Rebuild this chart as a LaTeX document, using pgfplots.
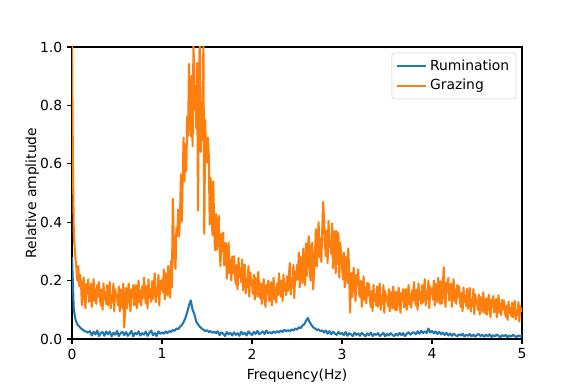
\documentclass[border=0pt]{standalone}
\usepackage{pgfplots}
\usepackage{pgfplotstable}
\pgfplotsset{compat=1.18}
\usepackage{fontspec}
\setmainfont{DejaVu Sans}
\definecolor{mplblue}{HTML}{1F77B4}
\definecolor{mplorange}{HTML}{FF7F0E}

% grazing spectrum, one value every 0.01 Hz from 0 to 5 Hz (one line = 0.1 Hz)
\pgfplotstableread[row sep=\\]{
y\\
1.05\\ 0.60\\ 0.36\\ 0.31\\ 0.27\\ 0.24\\ 0.20\\ 0.25\\ 0.18\\ 0.22\\
0.193\\ 0.116\\ 0.171\\ 0.21\\ 0.138\\ 0.105\\ 0.188\\ 0.155\\ 0.204\\ 0.127\\
0.14\\ 0.19\\ 0.11\\ 0.16\\ 0.205\\ 0.13\\ 0.17\\ 0.12\\ 0.185\\ 0.145\\
0.195\\ 0.14\\ 0.115\\ 0.17\\ 0.10\\ 0.19\\ 0.135\\ 0.16\\ 0.12\\ 0.185\\
0.115\\ 0.16\\ 0.195\\ 0.105\\ 0.15\\ 0.125\\ 0.19\\ 0.095\\ 0.17\\ 0.145\\
0.15\\ 0.115\\ 0.18\\ 0.095\\ 0.17\\ 0.145\\ 0.105\\ 0.19\\ 0.04\\ 0.10\\
0.175\\ 0.105\\ 0.155\\ 0.19\\ 0.125\\ 0.095\\ 0.17\\ 0.14\\ 0.185\\ 0.115\\
0.135\\ 0.185\\ 0.105\\ 0.155\\ 0.20\\ 0.125\\ 0.165\\ 0.115\\ 0.18\\ 0.14\\
0.21\\ 0.149\\ 0.122\\ 0.182\\ 0.105\\ 0.204\\ 0.144\\ 0.171\\ 0.127\\ 0.198\\
0.137\\ 0.187\\ 0.225\\ 0.126\\ 0.176\\ 0.148\\ 0.22\\ 0.115\\ 0.198\\ 0.17\\
0.202\\ 0.16\\ 0.238\\ 0.136\\ 0.226\\ 0.196\\ 0.148\\ 0.25\\ 0.172\\ 0.142\\
0.268\\ 0.176\\ 0.48\\ 0.352\\ 0.268\\ 0.24\\ 0.38\\ 0.352\\ 0.444\\ 0.352\\
0.414\\ 0.564\\ 0.402\\ 0.552\\ 0.69\\ 0.54\\ 0.666\\ 0.576\\ 0.762\\ 0.696\\
0.942\\ 0.764\\ 0.694\\ 0.902\\ 0.66\\ 1.03\\ 0.786\\ 0.866\\ 0.722\\ 0.946\\
0.44\\ 0.87\\ 1.04\\ 0.64\\ 0.81\\ 0.68\\ 1.02\\ 0.36\\ 0.75\\ 0.62\\
0.604\\ 0.69\\ 0.626\\ 0.392\\ 0.552\\ 0.472\\ 0.356\\ 0.54\\ 0.374\\ 0.304\\
0.428\\ 0.306\\ 0.376\\ 0.422\\ 0.308\\ 0.25\\ 0.36\\ 0.302\\ 0.364\\ 0.252\\
0.269\\ 0.329\\ 0.207\\ 0.277\\ 0.33\\ 0.225\\ 0.271\\ 0.201\\ 0.282\\ 0.226\\
0.284\\ 0.218\\ 0.188\\ 0.254\\ 0.17\\ 0.278\\ 0.212\\ 0.242\\ 0.194\\ 0.272\\
0.167\\ 0.217\\ 0.255\\ 0.156\\ 0.206\\ 0.178\\ 0.25\\ 0.145\\ 0.228\\ 0.20\\
0.19\\ 0.155\\ 0.22\\ 0.135\\ 0.21\\ 0.185\\ 0.145\\ 0.23\\ 0.165\\ 0.14\\
0.19\\ 0.12\\ 0.17\\ 0.205\\ 0.14\\ 0.11\\ 0.185\\ 0.155\\ 0.20\\ 0.13\\
0.145\\ 0.195\\ 0.115\\ 0.165\\ 0.21\\ 0.135\\ 0.175\\ 0.125\\ 0.19\\ 0.15\\
0.225\\ 0.17\\ 0.145\\ 0.20\\ 0.13\\ 0.22\\ 0.165\\ 0.19\\ 0.15\\ 0.215\\
0.164\\ 0.218\\ 0.26\\ 0.152\\ 0.206\\ 0.176\\ 0.254\\ 0.14\\ 0.23\\ 0.20\\
0.254\\ 0.205\\ 0.296\\ 0.177\\ 0.282\\ 0.247\\ 0.191\\ 0.31\\ 0.219\\ 0.184\\
0.328\\ 0.216\\ 0.296\\ 0.352\\ 0.248\\ 0.20\\ 0.32\\ 0.33\\ 0.17\\ 0.232\\
0.296\\ 0.376\\ 0.248\\ 0.328\\ 0.40\\ 0.28\\ 0.344\\ 0.264\\ 0.368\\ 0.47\\
0.412\\ 0.324\\ 0.284\\ 0.372\\ 0.26\\ 0.404\\ 0.316\\ 0.336\\ 0.292\\ 0.396\\
0.242\\ 0.314\\ 0.37\\ 0.226\\ 0.37\\ 0.258\\ 0.362\\ 0.21\\ 0.33\\ 0.29\\
0.254\\ 0.205\\ 0.296\\ 0.177\\ 0.282\\ 0.247\\ 0.191\\ 0.31\\ 0.219\\ 0.09\\
0.226\\ 0.142\\ 0.202\\ 0.244\\ 0.166\\ 0.13\\ 0.22\\ 0.184\\ 0.238\\ 0.154\\
0.144\\ 0.199\\ 0.11\\ 0.166\\ 0.215\\ 0.133\\ 0.177\\ 0.122\\ 0.193\\ 0.149\\
0.19\\ 0.135\\ 0.11\\ 0.165\\ 0.095\\ 0.185\\ 0.13\\ 0.155\\ 0.115\\ 0.18\\
0.11\\ 0.155\\ 0.19\\ 0.10\\ 0.145\\ 0.12\\ 0.185\\ 0.09\\ 0.165\\ 0.14\\
0.144\\ 0.112\\ 0.171\\ 0.095\\ 0.162\\ 0.14\\ 0.104\\ 0.18\\ 0.122\\ 0.099\\
0.162\\ 0.099\\ 0.144\\ 0.176\\ 0.117\\ 0.09\\ 0.158\\ 0.131\\ 0.171\\ 0.108\\
0.126\\ 0.172\\ 0.10\\ 0.145\\ 0.185\\ 0.118\\ 0.154\\ 0.108\\ 0.167\\ 0.131\\
0.195\\ 0.14\\ 0.115\\ 0.17\\ 0.10\\ 0.19\\ 0.135\\ 0.16\\ 0.12\\ 0.185\\
0.125\\ 0.17\\ 0.205\\ 0.115\\ 0.16\\ 0.135\\ 0.20\\ 0.105\\ 0.18\\ 0.155\\
0.17\\ 0.135\\ 0.20\\ 0.115\\ 0.19\\ 0.165\\ 0.125\\ 0.21\\ 0.145\\ 0.12\\
0.198\\ 0.121\\ 0.176\\ 0.245\\ 0.143\\ 0.11\\ 0.193\\ 0.16\\ 0.209\\ 0.132\\
0.14\\ 0.19\\ 0.11\\ 0.16\\ 0.205\\ 0.13\\ 0.17\\ 0.12\\ 0.185\\ 0.145\\
0.181\\ 0.131\\ 0.109\\ 0.158\\ 0.095\\ 0.176\\ 0.127\\ 0.149\\ 0.113\\ 0.172\\
0.103\\ 0.144\\ 0.175\\ 0.094\\ 0.135\\ 0.112\\ 0.171\\ 0.085\\ 0.153\\ 0.13\\
0.128\\ 0.10\\ 0.152\\ 0.084\\ 0.144\\ 0.124\\ 0.092\\ 0.16\\ 0.108\\ 0.088\\
0.139\\ 0.083\\ 0.123\\ 0.151\\ 0.099\\ 0.075\\ 0.135\\ 0.111\\ 0.147\\ 0.091\\
0.098\\ 0.138\\ 0.074\\ 0.114\\ 0.15\\ 0.09\\ 0.122\\ 0.082\\ 0.134\\ 0.102\\
0.132\\ 0.093\\ 0.076\\ 0.114\\ 0.065\\ 0.128\\ 0.09\\ 0.107\\ 0.079\\ 0.125\\
0.074\\ 0.106\\ 0.13\\ 0.067\\ 0.099\\ 0.081\\ 0.127\\ 0.06\\ 0.113\\ 0.095\\
0.10\\
}\grazing

% rumination spectrum, one value every 0.02 Hz from 0 to 5 Hz (one line = 0.2 Hz)
\pgfplotstableread[row sep=\\]{
y\\
0.28\\ 0.10\\ 0.065\\ 0.05\\ 0.043\\ 0.036\\ 0.032\\ 0.027\\ 0.025\\ 0.022\\
0.027\\ 0.012\\ 0.025\\ 0.016\\ 0.029\\ 0.010\\ 0.020\\ 0.024\\ 0.011\\ 0.026\\
0.016\\ 0.026\\ 0.009\\ 0.021\\ 0.015\\ 0.028\\ 0.010\\ 0.020\\ 0.025\\ 0.013\\
0.024\\ 0.011\\ 0.018\\ 0.028\\ 0.009\\ 0.021\\ 0.016\\ 0.026\\ 0.012\\ 0.020\\
0.015\\ 0.025\\ 0.011\\ 0.021\\ 0.029\\ 0.013\\ 0.020\\ 0.010\\ 0.026\\ 0.018\\
0.022\\ 0.018\\ 0.026\\ 0.02\\ 0.027\\ 0.024\\ 0.031\\ 0.028\\ 0.036\\ 0.034\\
0.042\\ 0.048\\ 0.058\\ 0.072\\ 0.092\\ 0.115\\ 0.132\\ 0.10\\ 0.085\\ 0.06\\
0.05\\ 0.042\\ 0.036\\ 0.032\\ 0.027\\ 0.03\\ 0.024\\ 0.027\\ 0.021\\ 0.025\\
0.020\\ 0.026\\ 0.013\\ 0.023\\ 0.018\\ 0.010\\ 0.024\\ 0.016\\ 0.021\\ 0.012\\
0.023\\ 0.014\\ 0.020\\ 0.011\\ 0.025\\ 0.016\\ 0.021\\ 0.012\\ 0.026\\ 0.018\\
0.014\\ 0.024\\ 0.018\\ 0.028\\ 0.016\\ 0.021\\ 0.026\\ 0.017\\ 0.029\\ 0.020\\
0.023\\ 0.019\\ 0.026\\ 0.021\\ 0.027\\ 0.022\\ 0.029\\ 0.024\\ 0.031\\ 0.027\\
0.03\\ 0.026\\ 0.033\\ 0.029\\ 0.036\\ 0.032\\ 0.04\\ 0.037\\ 0.046\\ 0.05\\
0.062\\ 0.072\\ 0.058\\ 0.048\\ 0.04\\ 0.036\\ 0.031\\ 0.033\\ 0.027\\ 0.029\\
0.022\\ 0.029\\ 0.018\\ 0.027\\ 0.016\\ 0.025\\ 0.019\\ 0.014\\ 0.024\\ 0.017\\
0.021\\ 0.013\\ 0.024\\ 0.011\\ 0.020\\ 0.016\\ 0.010\\ 0.022\\ 0.014\\ 0.019\\
0.011\\ 0.021\\ 0.015\\ 0.009\\ 0.019\\ 0.013\\ 0.022\\ 0.010\\ 0.018\\ 0.014\\
0.020\\ 0.010\\ 0.015\\ 0.021\\ 0.009\\ 0.018\\ 0.012\\ 0.020\\ 0.014\\ 0.010\\
0.018\\ 0.012\\ 0.021\\ 0.013\\ 0.020\\ 0.010\\ 0.018\\ 0.023\\ 0.015\\ 0.021\\
0.023\\ 0.016\\ 0.026\\ 0.018\\ 0.028\\ 0.020\\ 0.026\\ 0.021\\ 0.036\\ 0.022\\
0.028\\ 0.019\\ 0.026\\ 0.017\\ 0.025\\ 0.016\\ 0.022\\ 0.014\\ 0.021\\ 0.012\\
0.019\\ 0.011\\ 0.018\\ 0.013\\ 0.009\\ 0.016\\ 0.012\\ 0.018\\ 0.009\\ 0.015\\
0.011\\ 0.017\\ 0.009\\ 0.015\\ 0.008\\ 0.014\\ 0.017\\ 0.010\\ 0.014\\ 0.008\\
0.015\\ 0.010\\ 0.016\\ 0.007\\ 0.013\\ 0.009\\ 0.015\\ 0.011\\ 0.006\\ 0.013\\
0.010\\ 0.014\\ 0.006\\ 0.012\\ 0.008\\ 0.014\\ 0.010\\ 0.007\\ 0.012\\ 0.009\\
0.011\\
}\rumination

\begin{document}
\begin{tikzpicture}
\begin{axis}[
    name=ax,
    scale only axis,
    width=324pt,
    height=210.24pt,
    xmin=0, xmax=5,
    ymin=0, ymax=1,
    xtick={0,1,...,5},
    ytick={0,0.2,...,1.0},
    yticklabel style={/pgf/number format/fixed,/pgf/number format/fixed zerofill,/pgf/number format/precision=1},
    /pgf/number format/assume math mode=true,
    tick align=outside,
    tick pos=left,
    major tick length=3.5pt,
    every tick/.style={black,line width=0.8pt},
    axis line style={line width=0.8pt},
    xlabel={Frequency(Hz)},
    ylabel={Relative amplitude},
    ylabel shift=-6pt,
    legend cell align=left,
    legend style={at={(1,1)}, anchor=north east, xshift=-4pt, yshift=-4pt,
        draw=black!20, rounded corners=2pt, fill=white, inner sep=3pt, row sep=1pt},
    legend image code/.code={\draw[#1] (0pt,0pt) -- (21pt,0pt);},
    ]
\addplot[mplblue, line width=1.5pt, line join=round] table[x expr=\coordindex*0.02, y=y] {\rumination};
\addlegendentry{Rumination}
\addplot[mplorange, line width=1.5pt, line join=round] table[x expr=\coordindex*0.01, y=y] {\grazing};
\addlegendentry{Grazing}
\end{axis}
\path[use as bounding box] ([xshift=-51.84pt,yshift=-35.28pt]ax.south west)
    rectangle ([xshift=42.48pt,yshift=33.84pt]ax.north east);
\end{tikzpicture}
\end{document}
